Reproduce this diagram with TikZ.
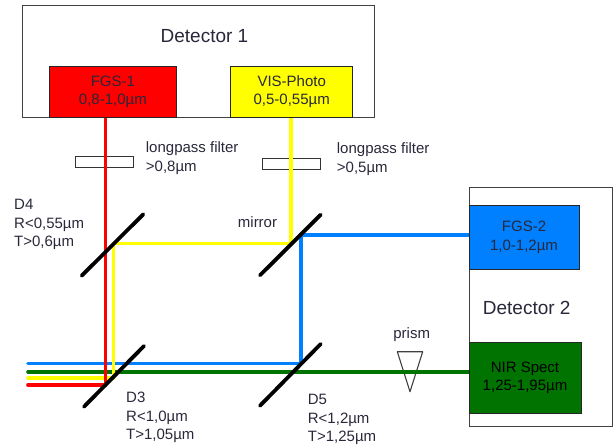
\documentclass[tikz,border=0pt]{standalone}
\usepackage{fontspec}
\setmainfont{Liberation Sans}
\definecolor{strahlrot}{RGB}{255,0,0}
\definecolor{strahlgelb}{RGB}{255,255,0}
\definecolor{strahlblau}{RGB}{0,128,255}
\definecolor{strahlgruen}{RGB}{0,115,0}
\definecolor{schrift}{RGB}{40,40,58}
\newcommand{\lblfont}{\fontsize{15}{18.5}\selectfont}
\newcommand{\detfont}{\fontsize{19}{22}\selectfont}
\tikzset{
	gehaeuse/.style={draw=black!75, line width=0.9pt, inner sep=0pt},
	sensor/.style={draw=black!85, line width=0.9pt, inner sep=0pt, align=center, text=schrift, font=\lblfont},
	beam/.style={line width=3.6pt, line cap=round},
	spiegel/.style={line width=3.8pt, line cap=round},
	lbl/.style={text=schrift, font=\lblfont, align=left, inner sep=0pt, anchor=north west},
}
\begin{document}
\begin{tikzpicture}[x=1pt, y=-1pt]
		\useasboundingbox (0,0) rectangle (613,446);
		%detektoren
		\node[gehaeuse, minimum width=351.3, minimum height=111.6] (det1) at (198.35,61.5) {};
		\node[gehaeuse, minimum width=143, minimum height=238.3] (det2) at (540.5,306.85) {};
		\node[text=schrift, font=\detfont, inner sep=0pt] (det1txt) at (204.5,36) {Detector 1};
		\node[text=schrift, font=\detfont, inner sep=0pt] (det2txt) at (526.7,307.7) {Detector 2};
		%filter und prisma
		\node[draw=black!80, line width=0.9pt, minimum width=58.3, minimum height=11.4, inner sep=0pt] (filt1) at (104.2,162) {};
		\node[draw=black!80, line width=0.9pt, minimum width=58.7, minimum height=11, inner sep=0pt] (filt2) at (291.3,163.5) {};
		\draw[black!75, line width=1.1pt, line join=round] (397.3,351.7) -- (422.7,351.7) -- (410,391.7) -- cycle;
		%knicke
		\coordinate (r0) at (105.3,117.3);
		\coordinate (r1) at (105.3,385);
		\coordinate (rend) at (28,385);
		\coordinate (y0) at (291,117.3);
		\coordinate (y1) at (291,243.5);
		\coordinate (y2) at (113.3,243.5);
		\coordinate (y3) at (113.3,377.7);
		\coordinate (yend) at (28,377.7);
		\coordinate (b1) at (300.7,235);
		\coordinate (b2) at (300.7,363.5);
		\coordinate (bend) at (28,363.5);
		\coordinate (g1) at (469,371.8);
		\coordinate (gend) at (28,371.8);
		%strahlen
		\draw[beam, strahlblau] (b1 -| det2.west) -- (b1) -- (b2) -- (bend);
		\draw[beam, strahlgruen] (g1) -- (gend);
		\draw[beam, strahlgelb] (y0) -- (y1) -- (y2) -- (y3) -- (yend);
		\draw[beam, strahlrot] (r0) -- (r1) -- (rend);
		%sensoren
		\node[sensor, fill=strahlrot, minimum width=127.7, minimum height=51.3] (fgs1) at (112.85,91.65) {FGS-1\\0,8-1,0µm};
		\node[sensor, fill=strahlgelb, minimum width=122, minimum height=51.3] (vis) at (291.7,91.65) {VIS-Photo\\0,5-0,55µm};
		\node[sensor, fill=strahlblau, minimum width=110, minimum height=64.3] (fgs2) at (524,237.15) {FGS-2\\1,0-1,2µm};
		\node[sensor, fill=strahlgruen, text=black, minimum width=112, minimum height=71] (nir) at (525,377.8) {NIR Spect\\1,25-1,95µm};
		%spiegel
		\draw[spiegel] (81.7,275.7) coordinate (d4a) -- (143.3,214.3) coordinate (d4b);
		\draw[spiegel] (260,275.3) coordinate (ma) -- (320.7,214.7) coordinate (mb);
		\draw[spiegel] (84,406.7) coordinate (d3a) -- (144,346) coordinate (d3b);
		\draw[spiegel] (260,405.7) coordinate (d5a) -- (320.7,344) coordinate (d5b);
		%beschriftung
		\node[lbl] (f1txt) at (145.7,141.5) {longpass filter\\>0,8µm};
		\node[lbl] (f2txt) at (336.7,142.5) {longpass filter\\>0,5µm};
		\node[lbl] (d4txt) at (14,199) {D4\\R<0,55µm\\T>0,6µm};
		\node[lbl] (d3txt) at (126,392) {D3\\R<1,0µm\\T>1,05µm};
		\node[lbl] (d5txt) at (307.7,394) {D5\\R<1,2µm\\T>1,25µm};
		\node[lbl, anchor=base] (mtxt) at (257.5,228) {mirror};
		\node[lbl, anchor=base] (ptxt) at (411.7,338.5) {prism};
	\end{tikzpicture}
\end{document}
